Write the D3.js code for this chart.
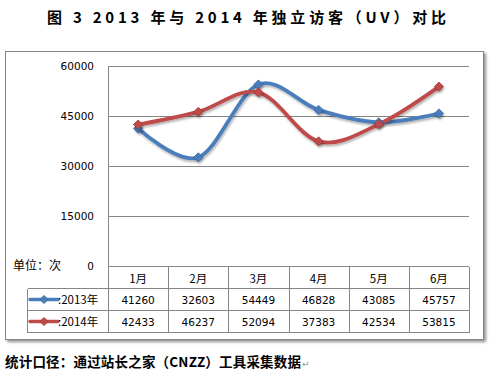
<!DOCTYPE html>
<html>
<head>
<meta charset="utf-8">
<script src="https://cdn.jsdelivr.net/npm/d3@7"></script>
<style>
  body { margin: 0; background: #fff; }
  svg { display: block; }
</style>
</head>
<body>
<div id="chart"></div>
<script>
// data
const months = ['1月', '2月', '3月', '4月', '5月', '6月'];
const uv2013 = [41260, 32603, 54449, 46828, 43085, 45757];
const uv2014 = [42433, 46237, 52094, 37383, 42534, 53815];
const seriesNames = [':2013年', ':2014年'];
const yTicks = [0, 15000, 30000, 45000, 60000];

const W = 491, H = 376;
const plot = {left: 108, right: 469, top: 66, bottom: 266};
const colors = ['#4a7ebb', '#be4b48'];
const dark = ['#3a6aa6', '#a23b38'];

const svg = d3.select('#chart').append('svg')
    .attr('width', W)
    .attr('height', H);

const defs = svg.append('defs');
const shadow = defs.append('filter').attr('id', 'shadow')
    .attr('x', '-10%').attr('y', '-10%').attr('width', '120%').attr('height', '120%');
shadow.append('feGaussianBlur').attr('in', 'SourceAlpha').attr('stdDeviation', 1.5);
shadow.append('feOffset').attr('dx', 2).attr('dy', 2).attr('result', 'ob');
shadow.append('feComponentTransfer').append('feFuncA').attr('type', 'linear').attr('slope', 0.45);
const merge = shadow.append('feMerge');
merge.append('feMergeNode');
merge.append('feMergeNode').attr('in', 'SourceGraphic');

const lineShadow = defs.append('filter').attr('id', 'lshadow')
    .attr('x', '-10%').attr('y', '-20%').attr('width', '120%').attr('height', '140%');
lineShadow.append('feGaussianBlur').attr('in', 'SourceAlpha').attr('stdDeviation', 1);
lineShadow.append('feOffset').attr('dx', 1).attr('dy', 1.5);
lineShadow.append('feComponentTransfer').append('feFuncA').attr('type', 'linear').attr('slope', 0.3);
const m2 = lineShadow.append('feMerge');
m2.append('feMergeNode');
m2.append('feMergeNode').attr('in', 'SourceGraphic');

// title
svg.append('text')
    .attr('x', 47).attr('y', 23)
    .attr('textLength', 399).attr('lengthAdjust', 'spacing')
    .style('font-family', '"Noto Sans CJK SC"')
    .style('font-weight', 'bold')
    .style('font-size', '15px')
    .text('图 3 2013 年与 2014 年独立访客（UV）对比');

// chart frame
svg.append('rect')
    .attr('x', 5.5).attr('y', 51.5)
    .attr('width', 478).attr('height', 288)
    .attr('fill', '#fff')
    .attr('stroke', '#868686')
    .attr('stroke-width', 1)
    .attr('filter', 'url(#shadow)');

const x = d3.scaleBand().domain(months).range([plot.left, plot.right]);
const y = d3.scaleLinear().domain([0, 60000]).range([plot.bottom, plot.top]);

// gridlines
svg.append('g')
    .attr('transform', `translate(${plot.left},0)`)
    .call(d3.axisLeft(y).tickValues(yTicks.slice(1)).tickSize(-(plot.right - plot.left)).tickFormat(''))
    .call(g => g.select('.domain').remove())
    .call(g => g.selectAll('line').attr('stroke', '#868686').attr('shape-rendering', 'crispEdges'));

// y labels
svg.append('g')
    .attr('transform', `translate(94,0)`)
    .call(d3.axisLeft(y).tickValues(yTicks).tickSize(0).tickPadding(0).tickFormat(d3.format('d')))
    .call(g => g.select('.domain').remove())
    .call(g => g.selectAll('text')
        .attr('text-anchor', 'end')
        .style('font-family', '"DejaVu Sans"')
        .style('font-size', '10.5px')
        .attr('fill', '#000'));

// left axis line
svg.append('line')
    .attr('x1', plot.left + 0.5).attr('x2', plot.left + 0.5)
    .attr('y1', plot.top).attr('y2', plot.bottom)
    .attr('stroke', '#868686');

svg.append('text')
    .attr('x', 13).attr('y', 270)
    .style('font-family', '"Noto Sans CJK SC"')
    .style('font-size', '12px')
    .text('单位：次');

// data table
const rowTop = 266.5, rowH = 22;
const tableLeft = 27.5;
const tg = svg.append('g').attr('shape-rendering', 'crispEdges');
tg.append('line').attr('x1', tableLeft).attr('x2', plot.right).attr('y1', rowTop + rowH).attr('y2', rowTop + rowH).attr('stroke', '#868686');
tg.append('line').attr('x1', tableLeft).attr('x2', plot.right).attr('y1', rowTop + 2 * rowH).attr('y2', rowTop + 2 * rowH).attr('stroke', '#868686');
tg.append('line').attr('x1', tableLeft).attr('x2', plot.right).attr('y1', rowTop + 3 * rowH).attr('y2', rowTop + 3 * rowH).attr('stroke', '#868686');
tg.append('line').attr('x1', plot.left).attr('x2', plot.right).attr('y1', rowTop).attr('y2', rowTop).attr('stroke', '#868686');
tg.append('line').attr('x1', tableLeft).attr('x2', tableLeft).attr('y1', rowTop + rowH).attr('y2', rowTop + 3 * rowH).attr('stroke', '#868686');
tg.selectAll('.vline').data(months.concat(['end']))
    .join('line')
    .attr('x1', (d, i) => Math.round(i < months.length ? x(d) : plot.right) + 0.5)
    .attr('x2', (d, i) => Math.round(i < months.length ? x(d) : plot.right) + 0.5)
    .attr('y1', rowTop).attr('y2', rowTop + 3 * rowH)
    .attr('stroke', '#868686');

svg.selectAll('.month').data(months)
    .join('text')
    .attr('x', d => x(d) + x.bandwidth() / 2)
    .attr('y', rowTop + 16)
    .attr('text-anchor', 'middle')
    .style('font-family', '"Noto Sans CJK SC"')
    .style('font-size', '11.5px')
    .text(d => d);

const allSeries = [uv2013, uv2014];
allSeries.forEach((vals, s) => {
    svg.selectAll('.val' + s).data(vals)
        .join('text')
        .attr('x', (d, i) => x(months[i]) + x.bandwidth() / 2)
        .attr('y', rowTop + rowH * (s + 1) + 15.5)
        .attr('text-anchor', 'middle')
        .style('font-family', '"DejaVu Sans"')
        .style('font-size', '10.5px')
        .text(d => d);

    const ly = rowTop + rowH * (s + 1) + rowH / 2;
    svg.append('line')
        .attr('x1', 30).attr('x2', 58).attr('y1', ly).attr('y2', ly)
        .attr('stroke', colors[s]).attr('stroke-width', 3.5).attr('stroke-linecap', 'round');
    svg.append('path')
        .attr('d', d3.symbol(d3.symbolSquare, 34)())
        .attr('transform', `translate(44,${ly}) rotate(45)`)
        .attr('fill', colors[s]).attr('stroke', dark[s]).attr('stroke-width', 0.8);
    svg.append('text')
        .attr('x', 58).attr('y', ly + 4.5)
        .style('font-family', '"Noto Sans CJK SC"')
        .style('font-size', '11.5px')
        .text(seriesNames[s]);
});

// smoothed lines
const line = d3.line()
    .x((d, i) => x(months[i]) + x.bandwidth() / 2)
    .y(d => y(d))
    .curve(d3.curveCardinal.tension(0));

allSeries.forEach((vals, s) => {
    const g = svg.append('g').attr('filter', 'url(#lshadow)');
    g.append('path')
        .attr('d', line(vals))
        .attr('fill', 'none')
        .attr('stroke', colors[s])
        .attr('stroke-width', 3.75)
        .attr('stroke-linecap', 'round');
});
allSeries.forEach((vals, s) => {
    svg.append('g').attr('filter', 'url(#lshadow)')
        .selectAll('path').data(vals)
        .join('path')
        .attr('d', d3.symbol(d3.symbolSquare, 42)())
        .attr('transform', (d, i) => `translate(${x(months[i]) + x.bandwidth() / 2},${y(d)}) rotate(45)`)
        .attr('fill', colors[s])
        .attr('stroke', dark[s])
        .attr('stroke-width', 0.8);
});

// source note
svg.append('text')
    .attr('x', 5).attr('y', 367)
    .attr('textLength', 296).attr('lengthAdjust', 'spacing')
    .style('font-family', '"Noto Sans CJK SC"')
    .style('font-weight', 'bold')
    .style('font-size', '13.5px')
    .text('统计口径：通过站长之家（CNZZ）工具采集数据');
svg.append('text')
    .attr('x', 302).attr('y', 367)
    .style('font-family', '"DejaVu Sans"')
    .style('font-size', '9px')
    .attr('fill', '#999')
    .text('↵');
</script>
</body>
</html>
